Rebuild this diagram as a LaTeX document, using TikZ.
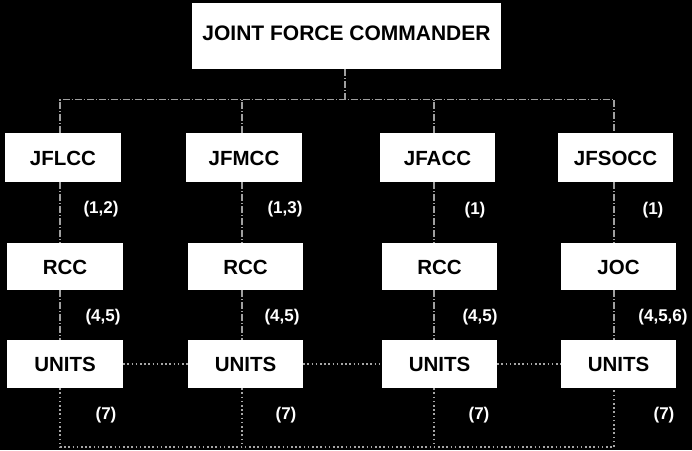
\documentclass[tikz,border=0pt]{standalone}
\usepackage{fontspec}
\setmainfont{Liberation Sans}
\begin{document}
\begin{tikzpicture}[x=1pt,y=-1pt,
  box/.style={fill=white,draw=none,inner sep=0pt,minimum width=116pt,minimum height=48pt,
    font=\fontsize{20.5}{22}\selectfont\bfseries,text=black,text height=15pt,text depth=0pt},
  lbl/.style={font=\fontsize{17}{19}\selectfont\bfseries,text=white,inner sep=0pt},
  conn/.style={draw=gray!75,line width=1.1pt,dash pattern=on 7pt off 2pt on 1pt off 2pt},
  dotconn/.style={draw=gray!70,line width=1.6pt,dash pattern=on 1.6pt off 2.6pt}]
\fill[black] (0,0) rectangle (692,450);
\useasboundingbox (0,0) rectangle (692,450);
% boxes
\node[box,minimum width=309pt,minimum height=66pt,font=\fontsize{21}{23}\selectfont\bfseries,text depth=6pt] (jfc) at (346.5,36) {JOINT FORCE COMMANDER};
\node[box,minimum height=49pt] (jflcc) at (63,157.5) {JFLCC};
\node[box,minimum height=49pt] (jfmcc) at (244,157.5) {JFMCC};
\node[box,minimum height=49pt,minimum width=115pt] (jfacc) at (437.5,157.5) {JFACC};
\node[box,minimum height=49pt,minimum width=115pt] (jfsocc) at (615.5,157.5) {JFSOCC};
\node[box,minimum height=47pt] (rcc1) at (65,266.5) {RCC};
\node[box,minimum height=47pt,minimum width=115pt] (rcc2) at (245.5,266.5) {RCC};
\node[box,minimum height=47pt,minimum width=115pt] (rcc3) at (439.5,266.5) {RCC};
\node[box,minimum height=47pt,minimum width=115pt] (joc) at (618.5,266.5) {JOC};
\node[box] (u1) at (65,364) {UNITS};
\node[box,minimum width=115pt] (u2) at (245.5,364) {UNITS};
\node[box,minimum width=115pt] (u3) at (439.5,364) {UNITS};
\node[box,minimum width=115pt] (u4) at (618.5,364) {UNITS};
% tree coordinates
\coordinate (tl) at (60,99.5);
\coordinate (tr) at (614,99.5);
\coordinate (bl) at (60,447);
\coordinate (br) at (614,447);
% top tree
\draw[conn] ([xshift=-1.5pt]jfc.south) -- ([xshift=-1.5pt]jfc.south |- tl);
\draw[conn] ([xshift=-3pt]jflcc.north) -- (tl) -- (tr) -- ([xshift=-1.5pt]jfsocc.north);
\draw[conn] ([xshift=-2pt]jfmcc.north) -- ([xshift=-2pt]jfmcc.north |- tl);
\draw[conn] ([xshift=-3.5pt]jfacc.north) -- ([xshift=-3.5pt]jfacc.north |- tl);
% verticals
\draw[conn] ([xshift=-3pt]jflcc.south) -- ([xshift=-5pt]rcc1.north);
\draw[conn] ([xshift=-2pt]jfmcc.south) -- ([xshift=-3.5pt]rcc2.north);
\draw[conn] ([xshift=-3.5pt]jfacc.south) -- ([xshift=-5.5pt]rcc3.north);
\draw[conn] ([xshift=-1.5pt]jfsocc.south) -- ([xshift=-4.5pt]joc.north);
\draw[conn] ([xshift=-5pt]rcc1.south) -- ([xshift=-5pt]u1.north);
\draw[conn] ([xshift=-3.5pt]rcc2.south) -- ([xshift=-3.5pt]u2.north);
\draw[conn] ([xshift=-5.5pt]rcc3.south) -- ([xshift=-5.5pt]u3.north);
\draw[conn] ([xshift=-4.5pt]joc.south) -- ([xshift=-4.5pt]u4.north);
% bottom
\draw[dotconn] ([xshift=-5pt]u1.south) -- (bl) -- (br) -- ([xshift=-4.5pt]u4.south);
\draw[dotconn] ([xshift=-3.5pt]u2.south) -- ([xshift=-3.5pt]u2.south |- bl);
\draw[dotconn] ([xshift=-5.5pt]u3.south) -- ([xshift=-5.5pt]u3.south |- bl);
\draw[dotconn] (u1.east) -- (u2.west);
\draw[dotconn] (u2.east) -- (u3.west);
\draw[dotconn] (u3.east) -- (u4.west);
% labels
\node[lbl] (l1) at (101,209) {(1,2)};
\node[lbl] (l2) at (285,209) {(1,3)};
\node[lbl] (l3) at (475,210) {(1)};
\node[lbl] (l4) at (653,210) {(1)};
\node[lbl] (l5) at (103,317) {(4,5)};
\node[lbl] (l6) at (282,317) {(4,5)};
\node[lbl] (l7) at (480,317) {(4,5)};
\node[lbl] (l8) at (663,317) {(4,5,6)};
\node[lbl] (l9) at (106,415) {(7)};
\node[lbl] (l10) at (286,415) {(7)};
\node[lbl] (l11) at (479,415) {(7)};
\node[lbl] (l12) at (664,415) {(7)};
\end{tikzpicture}
\end{document}
